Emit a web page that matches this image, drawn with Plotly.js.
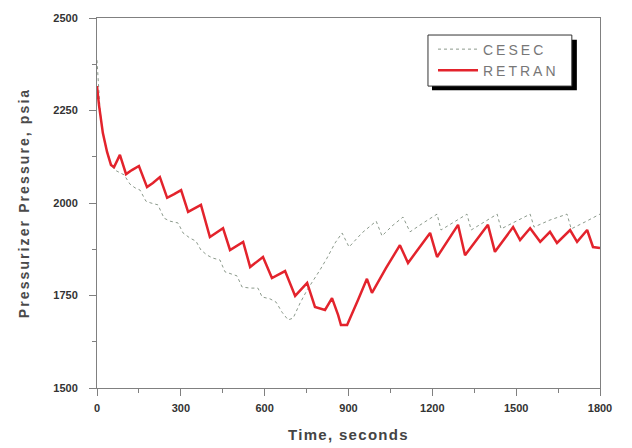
<!DOCTYPE html>
<html>
<head>
<meta charset="utf-8">
<script src="https://cdn.plot.ly/plotly-3.0.1.min.js"></script>
<style>
html,body{margin:0;padding:0;background:#fff;}
#chart{width:632px;height:448px;}
#chart text.legendtext{letter-spacing:3px;}
#chart text.xtitle{letter-spacing:1.3px;}
#chart text.ytitle{letter-spacing:2.1px;}
#chart .legend .scrollbox{clip-path:none !important;}
</style>
</head>
<body>
<div id="chart"></div>
<script>
// CESEC (gray dotted) time [s] and pressure [psia]
var cesecTime = [0,4,11,21,36,50,64,82,97,118,136,154,175,193,218,240,261,290,308,333,354,372,394,415,440,458,483,501,519,548,576,591,619,641,662,684,702,727,752,773,798,823,852,877,902,948,999,1020,1056,1095,1120,1167,1217,1231,1281,1324,1339,1389,1432,1446,1500,1550,1564,1621,1682,1697,1747,1800];
var cesecPressure = [2386,2332,2251,2184,2138,2103,2089,2081,2076,2051,2041,2035,2005,2000,1995,1959,1951,1946,1919,1905,1897,1873,1859,1851,1846,1814,1808,1803,1773,1770,1770,1746,1741,1732,1705,1684,1689,1730,1765,1789,1819,1851,1892,1919,1881,1919,1951,1911,1938,1962,1922,1946,1970,1927,1949,1970,1927,1949,1970,1930,1951,1970,1935,1954,1970,1930,1949,1970];

// RETRAN (red solid) time [s] and pressure [psia]
var retranTime = [0,7,21,36,50,61,82,104,125,150,179,200,225,251,276,301,326,351,372,404,429,451,476,501,523,548,573,594,626,651,673,709,730,752,780,816,841,863,873,895,934,966,984,1034,1084,1113,1192,1217,1292,1317,1399,1424,1489,1514,1550,1586,1621,1646,1693,1718,1754,1775,1800];
var retranPressure = [2316,2265,2189,2138,2103,2097,2130,2078,2089,2100,2043,2054,2070,2014,2024,2035,1976,1986,1995,1908,1922,1932,1873,1884,1895,1827,1841,1854,1797,1808,1816,1749,1765,1784,1719,1711,1743,1697,1670,1670,1738,1795,1757,1824,1886,1838,1919,1854,1941,1859,1941,1868,1935,1900,1932,1895,1922,1892,1927,1895,1927,1881,1878];

var seriesNames = ['CESEC', 'RETRAN'];
var xTickVals = [0,300,600,900,1200,1500,1800];
var yTickVals = [1500,1750,2000,2250,2500];

var traces = [
  {x: cesecTime, y: cesecPressure, name: seriesNames[0], type: 'scatter', mode: 'lines',
   line: {color: '#8c9a8c', width: 1, dash: 'dot'}},
  {x: retranTime, y: retranPressure, name: seriesNames[1], type: 'scatter', mode: 'lines',
   line: {color: '#e3232c', width: 2.5}}
];

var axisCommon = {
  showgrid: false, zeroline: false, showline: true, linecolor: '#808080', linewidth: 1,
  mirror: true, ticks: 'outside', ticklen: 7, tickcolor: '#808080', tickwidth: 1,
  tickfont: {family: 'Liberation Sans, Arial, sans-serif', size: 11, color: '#333', weight: 'bold'}
};

var layout = {
  width: 632, height: 448,
  margin: {l: 97, r: 32, t: 18, b: 60},
  paper_bgcolor: '#fff', plot_bgcolor: '#fff',
  showlegend: true,
  xaxis: Object.assign({}, axisCommon, {
    range: [0, 1800], tickvals: xTickVals, ticktext: xTickVals.map(String),
    ticklabelstandoff: 3,
    minor: {dtick: 150, ticks: 'outside', ticklen: 4, tickcolor: '#808080'},
    title: {text: 'Time, seconds', standoff: 16,
      font: {family: 'Liberation Sans, Arial, sans-serif', size: 15, color: '#444', weight: 'bold'}}
  }),
  yaxis: Object.assign({}, axisCommon, {
    range: [1500, 2500], tickvals: yTickVals, ticktext: yTickVals.map(String),
    ticklabelstandoff: 9,
    minor: {dtick: 125, ticks: 'outside', ticklen: 4, tickcolor: '#808080'},
    title: {text: 'Pressurizer Pressure, psia', standoff: 20,
      font: {family: 'Liberation Sans, Arial, sans-serif', size: 14, color: '#4a4a4a', weight: 'bold'}}
  }),
  legend: {
    x: 0.668, y: 0.958, xanchor: 'left', yanchor: 'top',
    bgcolor: 'rgba(0,0,0,0)', borderwidth: 0,
    font: {family: 'Liberation Sans, Arial, sans-serif', size: 14, color: '#777'},
    itemwidth: 40, tracegroupgap: 0
  },
  shapes: [
    {type: 'rect', xref: 'paper', yref: 'paper', x0: 0.666, x1: 0.954, y0: 0.805, y1: 0.941,
     fillcolor: '#000', line: {width: 0}, layer: 'above'},
    {type: 'rect', xref: 'paper', yref: 'paper', x0: 0.658, x1: 0.944, y0: 0.816, y1: 0.954,
     fillcolor: '#fff', line: {width: 1, color: '#333'}, layer: 'above'}
  ]
};

Plotly.newPlot('chart', traces, layout, {staticPlot: true, displayModeBar: false});
</script>
</body>
</html>
